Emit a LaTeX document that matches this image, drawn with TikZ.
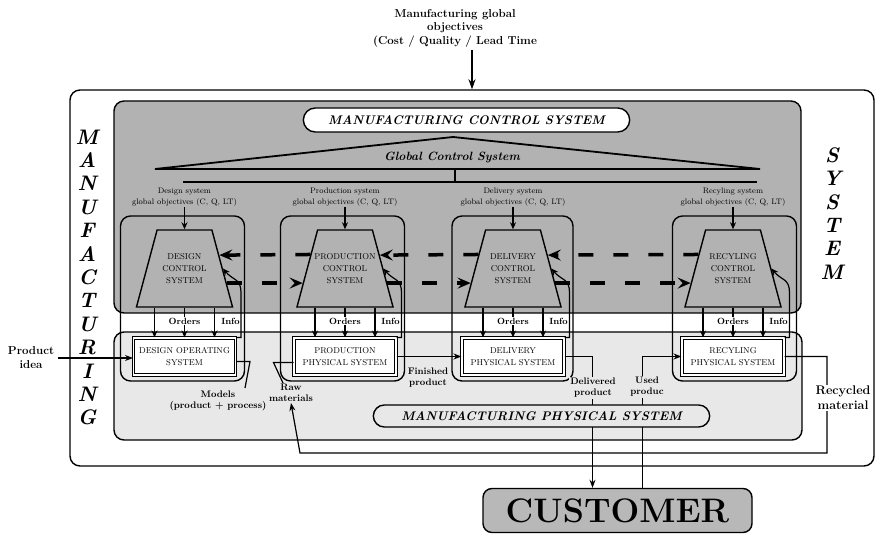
\documentclass[tikz,border=0pt]{standalone}
\usepackage{fontspec}
\usepackage{tikz}
\usetikzlibrary{positioning,shapes.geometric,shapes.misc,arrows.meta}
\definecolor{ctrlgray}{gray}{0.70}
\definecolor{physgray}{gray}{0.91}
\definecolor{custgray}{gray}{0.72}
\newcommand{\fsz}[2]{\fontsize{#1}{#2}\selectfont}
\tikzset{
  area/.style={draw, rectangle, rounded corners=10pt, line width=1.4pt},
  pill/.style={draw, rounded rectangle, line width=1.4pt, minimum height=24pt, font=\fsz{12.5}{14}\bfseries\itshape},
  subsys/.style={draw, rectangle, rounded corners=10pt, line width=1.4pt, minimum width=124pt, minimum height=165pt},
  ctrl/.style={draw, trapezium, trapezium left angle=75, trapezium right angle=75, inner xsep=27.4pt, inner ysep=38.5pt, fill=ctrlgray, line width=1.4pt},
  ctrltext/.style={font=\fsz{8.5}{12}, align=center},
  phys/.style={draw, double, double distance=1.4pt, line width=1pt, fill=white, minimum width=102pt, minimum height=37pt, inner sep=1pt, align=center, font=\fsz{8.5}{12}},
  objlabel/.style={font=\fsz{8}{11}, align=center, inner sep=1pt},
  small/.style={font=\fsz{9}{11}\bfseries, inner sep=1pt},
  flowlabel/.style={font=\fsz{9.5}{11}\bfseries, align=center, inner sep=1pt},
  arr/.style={-{Stealth[length=7pt,width=6pt]}, line width=1.2pt},
  flow/.style={-{Stealth[length=8pt,width=6pt]}, line width=1.2pt},
  link/.style={-{Stealth[length=13pt,width=11pt,inset=5pt]}, line width=3.5pt, dash pattern=on 15pt off 20pt},
  bigletters/.style={font=\fsz{21}{23.4}\bfseries\itshape, align=center}
}

\begin{document}
\begin{tikzpicture}[x=1pt, y=-1pt]
    \useasboundingbox (0,0) rectangle (876,534);

    % manufacturing system and its two parts
    \node[area, fill=white, minimum width=804pt, minimum height=376pt] (mfg) at (472,278) {};
    \node[area, fill=ctrlgray, minimum width=687pt, minimum height=212pt] (ctrlarea) at (457.5,207) {};
    \node[area, fill=physgray, minimum width=688pt, minimum height=108pt] (physarea) at (458,386) {};

    \node[pill, fill=white, minimum width=333pt] (mcs) at (466.5,120) {MANUFACTURING CONTROL SYSTEM};

    % global control system
    \coordinate (gcl) at (155,169);
    \coordinate (gct) at (453,137);
    \coordinate (gcr) at (760,169);
    \draw[line width=1.8pt] (gcl) -- (gct) -- (gcr) -- cycle;
    \node[font=\fsz{12}{13}\bfseries\itshape] (gcs) at (452,157) {Global Control System};
    \coordinate (gcstem) at (455,169);
    \coordinate (gcbar) at (455,182);
    \coordinate (barl) at (183,182);
    \coordinate (barr) at (757,182);
    \draw[line width=1.2pt] (gcstem) -- (gcbar);
    \draw[line width=1.2pt] (barl) -- (barr);

    % subsystems
    \node[subsys] (dsub) at (182.5,298.5) {};
    \node[subsys] (psub) at (342.5,298.5) {};
    \node[subsys, minimum width=121pt] (delsub) at (512.5,298.5) {};
    \node[subsys] (rsub) at (734.5,298.5) {};

    \node[objlabel] (dobj) at (184.5,197) {Design system\\global objectives (C, Q, LT)};
    \node[objlabel] (pobj) at (345,197) {Production system\\global objectives (C, Q, LT)};
    \node[objlabel] (delobj) at (513,197) {Delivery system\\global objectives (C, Q, LT)};
    \node[objlabel] (robj) at (733,197) {Recyling system\\global objectives (C, Q, LT)};

    \node[ctrl, label={[ctrltext]center:DESIGN\\CONTROL\\SYSTEM}] (dtrap) at (184.5,268.5) {};
    \node[ctrl, label={[ctrltext]center:PRODUCTION\\CONTROL\\SYSTEM}] (ptrap) at (345,268.5) {};
    \node[ctrl, label={[ctrltext]center:DELIVERY\\CONTROL\\SYSTEM}] (deltrap) at (513,268.5) {};
    \node[ctrl, label={[ctrltext]center:RECYLING\\CONTROL\\SYSTEM}] (rtrap) at (733,268.5) {};

    \draw[arr] (dobj) -- (dtrap.north);
    \draw[arr] (pobj) -- (ptrap.north);
    \draw[arr] (delobj) -- (deltrap.north);
    \draw[arr] (robj) -- (rtrap.north);

    \node[phys] (dop) at (184.5,356.5) {DESIGN OPERATING\\SYSTEM};
    \node[phys] (pphys) at (345,356.5) {PRODUCTION\\PHYSICAL SYSTEM};
    \node[phys] (delphys) at (513,356.5) {DELIVERY\\PHYSICAL SYSTEM};
    \node[phys] (rphys) at (733,356.5) {RECYLING\\PHYSICAL SYSTEM};

    % orders and info
    \draw[arr] ([xshift=-30pt]dtrap.south) -- ([xshift=-30pt]dop.north);
    \draw[arr] (dtrap.south) -- (dop.north);
    \draw[arr] ([xshift=30pt]dtrap.south) -- ([xshift=30pt]dop.north);
    \draw[arr] ([xshift=-30pt]ptrap.south) -- ([xshift=-30pt]pphys.north);
    \draw[arr] (ptrap.south) -- (pphys.north);
    \draw[arr] ([xshift=30pt]ptrap.south) -- ([xshift=30pt]pphys.north);
    \draw[arr] ([xshift=-30pt]deltrap.south) -- ([xshift=-30pt]delphys.north);
    \draw[arr] (deltrap.south) -- (delphys.north);
    \draw[arr] ([xshift=30pt]deltrap.south) -- ([xshift=30pt]delphys.north);
    \draw[arr] ([xshift=-30pt]rtrap.south) -- ([xshift=-30pt]rphys.north);
    \draw[arr] (rtrap.south) -- (rphys.north);
    \draw[arr] ([xshift=30pt]rtrap.south) -- ([xshift=30pt]rphys.north);

    \node[small, fill=white] (dord) at (184.5,321) {Orders};
    \node[small, fill=white] (pord) at (345,321) {Orders};
    \node[small, fill=white] (delord) at (513,321) {Orders};
    \node[small, fill=white] (rord) at (733,321) {Orders};

    \draw[arr] (dop.north east) -- ++(5,0) -- ++(0,-45) .. controls +(0,-14) and +(10,12) .. (dtrap.east);
    \draw[arr] (pphys.north east) -- ++(5,0) -- ++(0,-45) .. controls +(0,-14) and +(10,12) .. (ptrap.east);
    \draw[arr] (delphys.north east) -- ++(5,0) -- ++(0,-45) .. controls +(0,-14) and +(10,12) .. (deltrap.east);
    \draw[arr] (rphys.north east) -- ++(5,0) -- ++(0,-45) .. controls +(0,-14) and +(10,12) .. (rtrap.east);

    \node[small, anchor=east] (dinfo) at (241,321) {Info};
    \node[small, anchor=east] (pinfo) at (401,321) {Info};
    \node[small, anchor=east] (delinfo) at (569,321) {Info};
    \node[small, anchor=east] (rinfo) at (789,321) {Info};

    % links between control systems
    \draw[link] (ptrap.158.4) -- (dtrap.21.6);
    \draw[link] (deltrap.158.4) -- (ptrap.21.6);
    \draw[link] (rtrap.158.4) -- (deltrap.21.6);
    \draw[link] (dtrap.-19.2) -- (ptrap.199.2);
    \draw[link] (ptrap.-19.2) -- (deltrap.199.2);
    \draw[link] (deltrap.-19.2) -- (rtrap.199.2);

    % physical flows
    \node[font=\fsz{11.5}{14}\bfseries, align=center] (idea) at (31,358) {Product\\idea};
    \draw[flow] (idea.east) -- (idea.east -| dop.west);

    \node[flowlabel] (models) at (218,401) {Models\\(product + process)};
    \coordinate (mend) at (245,388);
    \draw[line width=1.2pt] ([yshift=-5pt]dop.east) -- ++(14,0) -- (mend);

    \node[flowlabel] (raw) at (291,393) {Raw\\materials};
    \draw[line width=1.2pt] ([yshift=-6pt]pphys.west) -- ++(-20,0) -- ([xshift=-8pt]raw.north);

    \node[flowlabel] (fin) at (428,378) {Finished\\product};
    \draw[flow] (pphys.east) -- (delphys.west);

    \node[draw, rectangle, rounded corners=9pt, line width=1.4pt, fill=custgray, minimum width=269pt, minimum height=44pt, font=\fsz{34}{36}\bfseries] (cust) at (617.5,510.5) {CUSTOMER};

    \draw[flow] (delphys.east) -| ([xshift=-25pt]cust.north);
    \draw[flow] ([xshift=25pt]cust.north) |- (rphys.west);
    \node[flowlabel, fill=physgray] (deliv) at (593,388) {Delivered\\product};
    \node[flowlabel, fill=physgray] (used) at (647,387) {Used\\produc};

    \coordinate (loopc) at (827,453);
    \coordinate (loopb) at (300,453);
    \draw[flow] (rphys.east) -| (loopc) -- (loopb) -- (raw.south);
    \node[font=\fsz{12.5}{15}\bfseries, align=center, fill=white, inner sep=1pt] (recyc) at (843,398) {Recycled\\material};

    \node[pill, fill=physgray, minimum width=343pt, minimum height=22pt] (mps) at (541.5,416) {MANUFACTURING PHYSICAL SYSTEM};

    % big words and global objectives
    \node[bigletters] (mfgword) at (87,277.5) {M\\A\\N\\U\\F\\A\\C\\T\\U\\R\\I\\N\\G};
    \node[bigletters] (sysword) at (832,213.5) {S\\Y\\S\\T\\E\\M};

    \node[font=\fsz{11.5}{13.5}\bfseries, align=center] (goal) at (455,28) {Manufacturing global\\objectives\\(Cost / Quality / Lead Time};
    \draw[arr, -{Stealth[length=10pt,width=7pt]}] (goal.south -| mfg.north) -- (mfg.north);
\end{tikzpicture}
\end{document}
